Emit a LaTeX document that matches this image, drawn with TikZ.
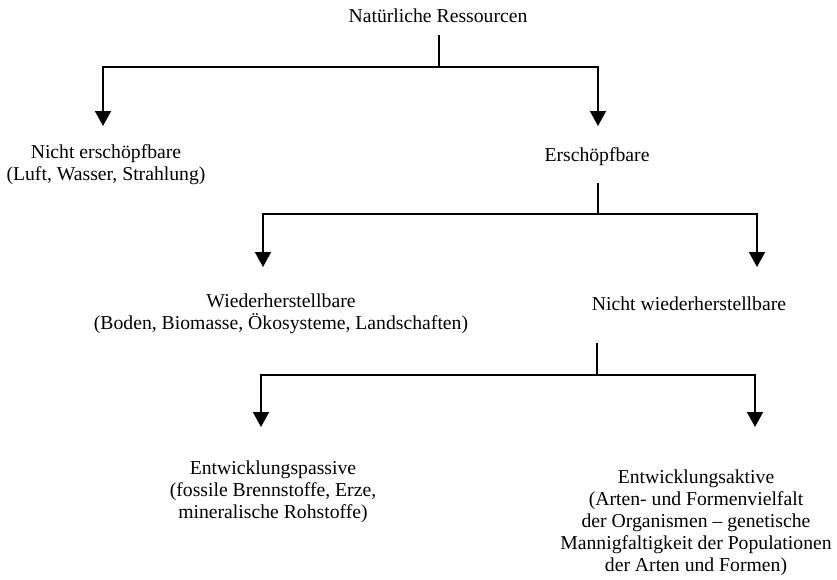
\documentclass[tikz,border=0pt]{standalone}
\usepackage{fontspec}
\setmainfont{Liberation Serif}
\usetikzlibrary{arrows.meta}
\begin{document}
\begin{tikzpicture}[x=1pt,y=-1pt,
  lbl/.style={anchor=base, inner sep=0pt, align=center,
              font=\fontsize{19.7}{22.2}\selectfont},
  stem/.style={line width=1.7pt},
  conn/.style={line width=1.7pt, -{Triangle[width=16pt,length=15pt]}}]
\useasboundingbox (0,0) rectangle (837,579);
\fill[white] (0,0) rectangle (837,579);

% classification labels (base anchor = baseline of the last line)
\node[lbl] (root)   at (438,22)    {Natürliche Ressourcen};
\node[lbl] (inex)   at (106,180.2) {Nicht erschöpfbare\\(Luft, Wasser, Strahlung)};
\node[lbl] (ex)     at (597,161)   {Erschöpfbare};
\node[lbl] (ren)    at (281,329.2) {Wiederherstellbare\\(Boden, Biomasse, Ökosysteme, Landschaften)};
\node[lbl] (nonren) at (689,310)   {Nicht wiederherstellbare};
\node[lbl] (pass)   at (273,518.4) {Entwicklungspassive\\(fossile Brennstoffe, Erze,\\mineralische Rohstoffe)};
\node[lbl] (akt)    at (696,571.8) {Entwicklungsaktive\\(Arten- und Formenvielfalt\\der Organismen – genetische\\Mannigfaltigkeit der Populationen\\der Arten und Formen)};

% level 1 fork
\coordinate (s1) at (439,35);
\coordinate (j1) at (439,67);
\coordinate (t1a) at (103,126);
\coordinate (t1b) at (598,126);
\draw[stem] (s1) -- (j1);
\draw[conn] (j1) -| (t1a);
\draw[conn] (j1) -| (t1b);

% level 2 fork
\coordinate (s2) at (598,183);
\coordinate (j2) at (598,214);
\coordinate (t2a) at (263,267);
\coordinate (t2b) at (757,267);
\draw[stem] (s2) -- (j2);
\draw[conn] (j2) -| (t2a);
\draw[conn] (j2) -| (t2b);

% level 3 fork
\coordinate (s3) at (597,343);
\coordinate (j3) at (597,375);
\coordinate (t3a) at (261,427);
\coordinate (t3b) at (755,427);
\draw[stem] (s3) -- (j3);
\draw[conn] (j3) -| (t3a);
\draw[conn] (j3) -| (t3b);
\end{tikzpicture}
\end{document}
